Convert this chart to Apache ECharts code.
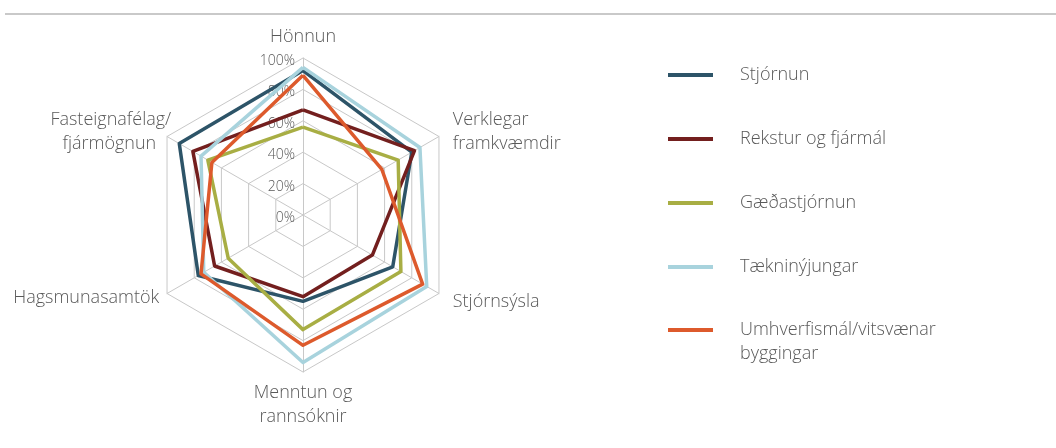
<!DOCTYPE html>
<html>
<head>
<meta charset="utf-8">
<script src="https://cdn.jsdelivr.net/npm/echarts@6/dist/echarts.min.js"></script>
<style>
  html, body { margin: 0; padding: 0; background: #ffffff; }
  #chart { width: 1056px; height: 448px; }
</style>
</head>
<body>
<div id="chart"></div>
<script>
// Indicators in ECharts order (counter-clockwise from top)
var categories = ['Hönnun', 'Fasteignafélag/\nfjármögnun', 'Hagsmunasamtök', 'Menntun og\nrannsóknir', 'Stjórnsýsla', 'Verklegar\nframkvæmdir'];
var tickLabels = ['0%', '20%', '40%', '60%', '80%', '100%'];
var seriesNames = ['Stjórnun', 'Rekstur og fjármál', 'Gæðastjórnun', 'Tækninýjungar', 'Umhverfismál/vitsvænar byggingar'];
var stjornun = [92, 91, 77, 55, 66, 80];
var rekstur = [67, 81, 65, 52, 51, 82];
var gaedastjornun = [56, 70, 55, 73, 72, 70];
var taekninyjungar = [94, 75, 73, 94, 91, 86];
var umhverfismal = [89, 67, 75, 83, 88, 58];

var colors = ['#2D5468', '#731F1E', '#A8AE44', '#A8D3DD', '#DD5A2C'];
var values = [stjornun, rekstur, gaedastjornun, taekninyjungar, umhverfismal];
var FONT = '"Open Sans"';
var TXT = '#595959';
var FS = 18;

var chart = echarts.init(document.getElementById('chart'), null, { renderer: 'canvas' });

var indicator = categories.map(function (c, i) {
  var ind = { name: c, min: 0, max: 100 };
  if (i === 0) {
    ind.axisLabel = {
      show: true,
      formatter: function (v) { return '{t|' + tickLabels[Math.round(v / 20)] + '}'; },
      rich: {
        t: { color: TXT, fontFamily: FONT, fontSize: 14, fontWeight: 300, padding: [6, 0, 0, 0] }
      }
    };
  }
  return ind;
});

function nameStyle(extra) {
  var s = { color: TXT, fontFamily: FONT, fontSize: FS, fontWeight: 300, lineHeight: 24 };
  for (var k in extra) s[k] = extra[k];
  return s;
}

var option = {
  animation: false,
  backgroundColor: '#ffffff',
  graphic: [{
    type: 'line',
    shape: { x1: 5, y1: 14, x2: 1056, y2: 14 },
    style: { stroke: '#C9C9C9', lineWidth: 2 },
    silent: true
  }],
  legend: [{
    orient: 'vertical',
    left: 668,
    top: 63,
    padding: 0,
    itemGap: 40,
    itemWidth: 45,
    itemHeight: 4,
    icon: 'rect',
    data: seriesNames.slice(0, 4),
    textStyle: { fontFamily: FONT, fontSize: FS, fontWeight: 300, color: TXT, lineHeight: 24, padding: [0, 0, 0, 22] }
  }, {
    orient: 'vertical',
    left: 668,
    top: 294,
    padding: 0,
    itemWidth: 45,
    itemHeight: 4,
    icon: 'rect',
    data: [seriesNames[4]],
    formatter: function () { return ' \nUmhverfismál/vitsvænar\nbyggingar'; },
    textStyle: { fontFamily: FONT, fontSize: FS, fontWeight: 300, color: TXT, lineHeight: 24, padding: [0, 0, 0, 22] }
  }],
  radar: {
    center: [303, 215],
    radius: 157,
    startAngle: 90,
    splitNumber: 5,
    shape: 'polygon',
    nameGap: 9,
    indicator: indicator,
    axisName: {
      color: TXT,
      fontFamily: FONT,
      fontSize: FS,
      fontWeight: 300,
      lineHeight: 24,
      formatter: function (name) {
        var parts = name.split('\n');
        if (name.indexOf('Fasteign') === 0) {
          return '{a|' + parts[0] + '}\n{b|' + parts[1] + '}';
        }
        if (name.indexOf('Verklegar') === 0) {
          return '{r|' + parts[0] + '}\n{r|' + parts[1] + '}';
        }
        if (name.indexOf('Stjórnsýsla') === 0) {
          return '{s|' + name + '}';
        }
        return name;
      },
      rich: {
        a: nameStyle({ padding: [0, -12, 0, 0] }),
        b: nameStyle({ padding: [0, 3, 0, 0] }),
        r: nameStyle({ padding: [0, 0, 0, 6] }),
        s: nameStyle({ padding: [8, 0, 0, 6] })
      }
    },
    axisLabel: { show: false, color: TXT, fontFamily: FONT, fontSize: 14, fontWeight: 300, margin: 8 },
    axisLine: { lineStyle: { color: '#C8C8C8', width: 1 } },
    splitLine: { lineStyle: { color: '#C8C8C8', width: 1 } },
    splitArea: { show: false },
    axisTick: { show: false }
  },
  series: [{
    type: 'radar',
    symbol: 'none',
    data: seriesNames.map(function (n, i) {
      return {
        name: n,
        value: values[i],
        lineStyle: { color: colors[i], width: 3.5 },
        itemStyle: { color: colors[i] }
      };
    })
  }]
};

chart.setOption(option);
</script>
</body>
</html>
